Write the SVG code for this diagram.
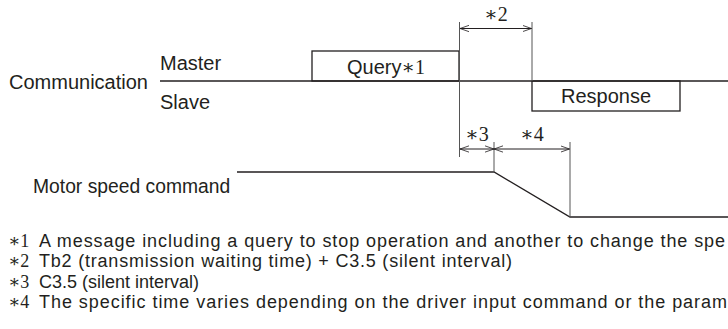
<svg xmlns="http://www.w3.org/2000/svg" width="728" height="329" viewBox="0 0 728 329">
<style>
text{font-family:"Liberation Sans",Arial,sans-serif;font-size:20px;fill:#231f20}
.m{font-family:"Liberation Serif","DejaVu Serif",serif}
.fn{font-size:18px}
.ln{fill:none;stroke:#231f20;stroke-width:1.3}
.ext{fill:none;stroke:#555;stroke-width:1}
.dim{fill:none;stroke:#231f20;stroke-width:1}
.ah{fill:none;stroke:#231f20;stroke-width:0.9}
</style>
<defs>
<marker id="arr" viewBox="0 0 10 10" refX="10" refY="5" markerWidth="9" markerHeight="9" markerUnits="userSpaceOnUse" orient="auto-start-reverse">
<path d="M0,1.5 L10,5 L0,8.5" class="ah"/>
</marker>
</defs>
<rect width="728" height="329" fill="#fff"/>
<g id="labels">
<text x="9" y="89">Communication</text>
<text x="160" y="70">Master</text>
<text x="160" y="109">Slave</text>
<text x="33" y="193" style="font-size:19.3px">Motor speed command</text>
</g>
<g id="query">
<rect x="312" y="51" width="147" height="30" class="ln"/>
<text x="347" y="74">Query<tspan class="m">∗1</tspan></text>
</g>
<g id="response">
<rect x="532" y="81" width="148" height="30" class="ln"/>
<text x="606" y="103" text-anchor="middle">Response</text>
</g>
<g id="connectors">
<line x1="160" y1="81" x2="728" y2="81" class="ln"/>
<polyline points="237,172 494,172 570,217 728,217" class="ln"/>
<line x1="459.5" y1="22" x2="459.5" y2="157" class="ext"/>
<line x1="532" y1="22" x2="532" y2="81" class="ext"/>
<line x1="494" y1="142" x2="494" y2="172" class="ext"/>
<line x1="570" y1="142" x2="570" y2="217" class="ext"/>
<line x1="460" y1="28.5" x2="531.5" y2="28.5" class="dim" marker-start="url(#arr)" marker-end="url(#arr)"/>
<line x1="460" y1="149" x2="494" y2="149" class="dim" marker-start="url(#arr)" marker-end="url(#arr)"/>
<line x1="494" y1="149" x2="569.5" y2="149" class="dim" marker-start="url(#arr)" marker-end="url(#arr)"/>
</g>
<g id="dim-labels">
<text x="496" y="21" text-anchor="middle" class="m">∗2</text>
<text x="477" y="141" text-anchor="middle" class="m">∗3</text>
<text x="532" y="141" text-anchor="middle" class="m">∗4</text>
</g>
<g id="notes">
<text x="8" y="247" class="m fn">∗1</text>
<text x="39" y="247" class="fn" textLength="686" lengthAdjust="spacing">A message including a query to stop operation and another to change the spe</text>
<text x="8" y="267.3" class="m fn">∗2</text>
<text x="39" y="267.3" class="fn" textLength="473" lengthAdjust="spacing">Tb2 (transmission waiting time) + C3.5 (silent interval)</text>
<text x="8" y="287.6" class="m fn">∗3</text>
<text x="39" y="287.6" class="fn">C3.5 (silent interval)</text>
<text x="8" y="307.9" class="m fn">∗4</text>
<text x="39" y="307.9" class="fn" textLength="688" lengthAdjust="spacing">The specific time varies depending on the driver input command or the param</text>
</g>
</svg>
